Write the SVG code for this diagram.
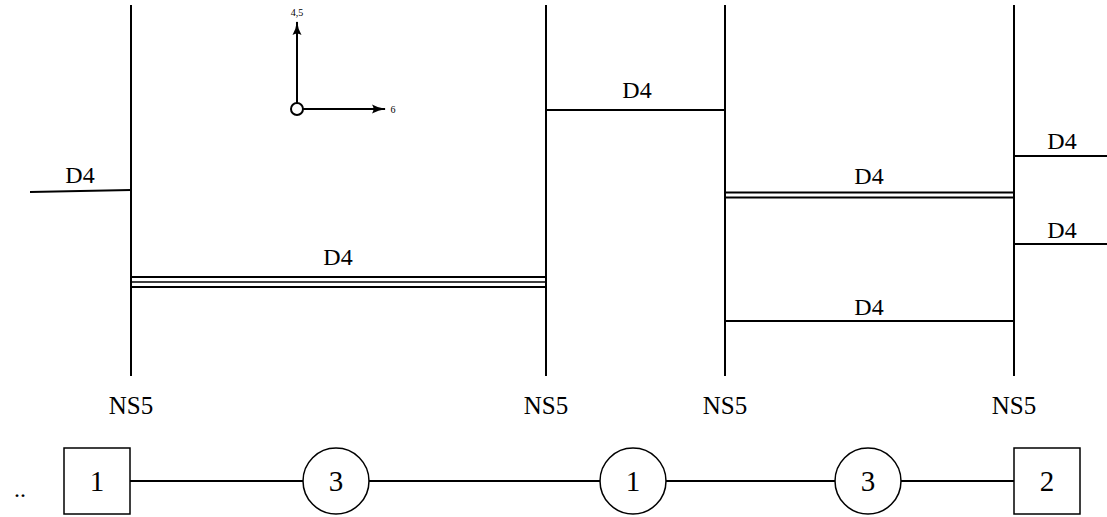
<svg xmlns="http://www.w3.org/2000/svg" width="1107" height="517" viewBox="0 0 1107 517">
<style>
.ln{stroke:#000;stroke-width:2;fill:none}
.node{fill:#fff;stroke:#000;stroke-width:1.5}
.t{font-family:'Liberation Serif','DejaVu Serif',serif;fill:#000;text-anchor:middle}
</style>
<defs>
<marker id="ah" viewBox="0 0 14 10" refX="13" refY="5" markerWidth="14" markerHeight="10" markerUnits="userSpaceOnUse" orient="auto">
<path d="M0,0.5 Q6,4 14,5 Q6,6 0,9.5 Q3,5 0,0.5 Z" fill="#000"/>
</marker>
</defs>
<rect width="1107" height="517" fill="#fff"/>
<g id="connectors" class="ln">
<line x1="131" y1="5" x2="131" y2="376"/>
<line x1="546" y1="5" x2="546" y2="376"/>
<line x1="725" y1="5" x2="725" y2="376"/>
<line x1="1014" y1="5" x2="1014" y2="376"/>
<line x1="30" y1="192" x2="131" y2="190"/>
<line x1="131" y1="277" x2="546" y2="277"/>
<line x1="131" y1="282" x2="546" y2="282" stroke-width="1.5"/>
<line x1="131" y1="287" x2="546" y2="287"/>
<line x1="546" y1="110" x2="725" y2="110"/>
<line x1="725" y1="192.5" x2="1014" y2="192.5"/>
<line x1="725" y1="197.5" x2="1014" y2="197.5"/>
<line x1="725" y1="321" x2="1014" y2="321"/>
<line x1="1014" y1="156" x2="1107" y2="156"/>
<line x1="1014" y1="244" x2="1107" y2="244"/>
<line x1="130" y1="481" x2="1014" y2="481"/>
<line x1="297" y1="103" x2="297" y2="22" marker-end="url(#ah)"/>
<line x1="303" y1="109" x2="385" y2="109" marker-end="url(#ah)"/>
</g>
<g id="axes">
<circle cx="297" cy="109" r="6" fill="none" stroke="#000" stroke-width="2"/>
<text class="t" font-size="10" x="297" y="16">4,5</text>
<text class="t" font-size="10" x="393" y="113">6</text>
</g>
<g id="labels" class="t" font-size="24">
<text x="80" y="183">D4</text>
<text x="338" y="265">D4</text>
<text x="637" y="98">D4</text>
<text x="869" y="184">D4</text>
<text x="869" y="315">D4</text>
<text x="1062" y="149">D4</text>
<text x="1062" y="238">D4</text>
<text x="131" y="414" font-size="25">NS5</text>
<text x="546" y="414" font-size="25">NS5</text>
<text x="725" y="414" font-size="25">NS5</text>
<text x="1014" y="414" font-size="25">NS5</text>
<text x="20" y="497">..</text>
</g>
<g id="n1"><rect class="node" x="64" y="448" width="66" height="66"/><text class="t" font-size="29" x="97" y="491">1</text></g>
<g id="n2"><circle class="node" cx="336" cy="481" r="33"/><text class="t" font-size="29" x="336" y="491">3</text></g>
<g id="n3"><circle class="node" cx="633" cy="481" r="33"/><text class="t" font-size="29" x="633" y="491">1</text></g>
<g id="n4"><circle class="node" cx="868" cy="481" r="33"/><text class="t" font-size="29" x="868" y="491">3</text></g>
<g id="n5"><rect class="node" x="1014" y="448" width="66" height="66"/><text class="t" font-size="29" x="1047" y="491">2</text></g>
</svg>
